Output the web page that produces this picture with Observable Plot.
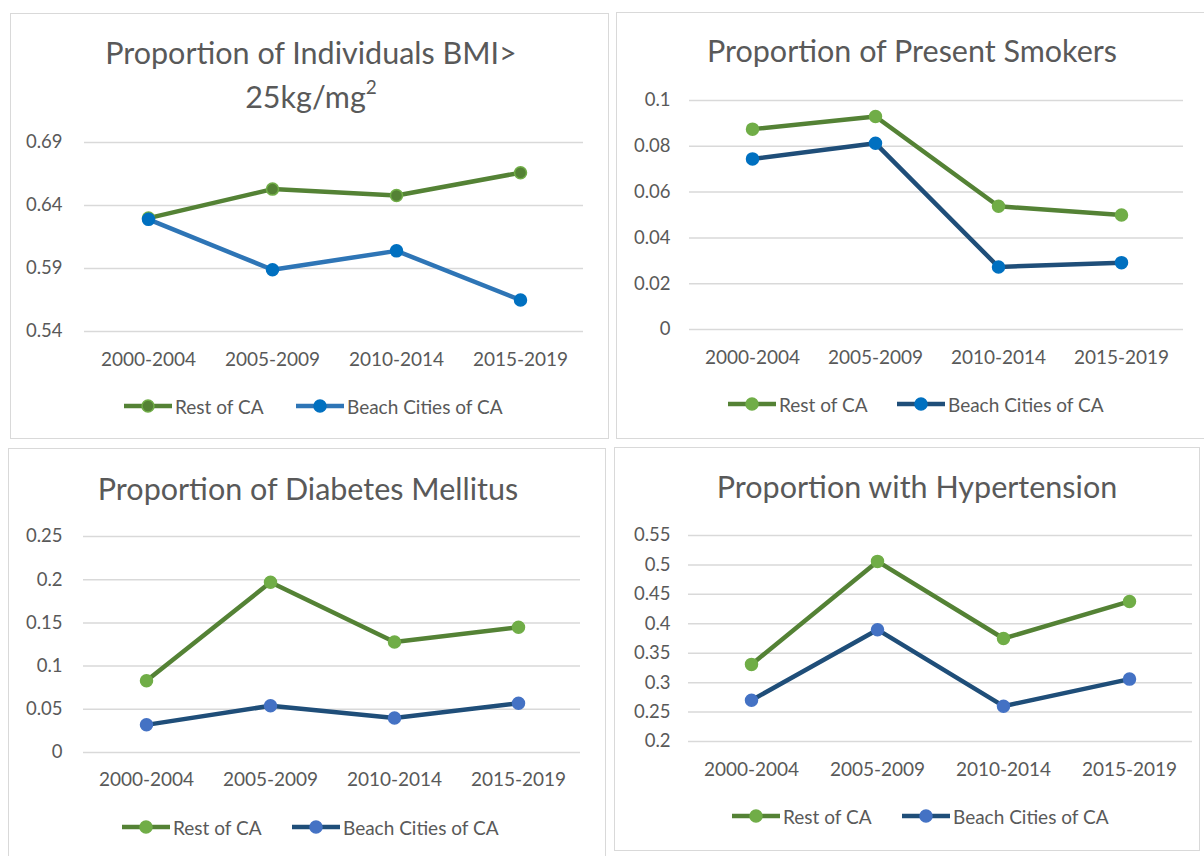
<!DOCTYPE html>
<html><head><meta charset="utf-8">
<script src="https://cdn.jsdelivr.net/npm/d3@7"></script>
<script src="https://cdn.jsdelivr.net/npm/@observablehq/plot@0.6"></script>
<style>
body{margin:0;background:#fff;font-family:Lato,"Open Sans",sans-serif;color:#595959}
#root{position:relative;width:1204px;height:856px;overflow:hidden;background:#fff}
.panel{position:absolute;border:1.5px solid #d9d9d9;box-sizing:border-box}
.title{position:absolute;white-space:nowrap;transform:translateX(-50%);font-size:30.5px;line-height:36px;text-align:center}
.title sup{font-size:19px;line-height:0;position:relative;top:-3px}
.plot{position:absolute}
.leg{position:absolute;display:flex;align-items:center;font-size:19px;white-space:nowrap;height:22px}
.leg svg{display:block}
</style>
</head><body><div id="root"></div>
<script>
const periods = ["2000-2004","2005-2009","2010-2014","2015-2019"];
const seriesNames = ["Rest of CA","Beach Cities of CA"];

const bmiRest   = [0.630, 0.653, 0.648, 0.666];
const bmiBeach  = [0.629, 0.589, 0.604, 0.565];
const smokeRest  = [0.0875, 0.0930, 0.0538, 0.0500];
const smokeBeach = [0.0745, 0.0813, 0.0273, 0.0292];
const dmRest  = [0.083, 0.197, 0.128, 0.145];
const dmBeach = [0.032, 0.054, 0.040, 0.057];
const htnRest  = [0.331, 0.506, 0.375, 0.438];
const htnBeach = [0.270, 0.390, 0.260, 0.306];

const bmiTicks = [0.54, 0.59, 0.64, 0.69];
const bmiTickLabels = ["0.54","0.59","0.64","0.69"];
const smokeTicks = [0, 0.02, 0.04, 0.06, 0.08, 0.1];
const smokeTickLabels = ["0","0.02","0.04","0.06","0.08","0.1"];
const dmTicks = [0, 0.05, 0.1, 0.15, 0.2, 0.25];
const dmTickLabels = ["0","0.05","0.1","0.15","0.2","0.25"];
const htnTicks = [0.2, 0.25, 0.3, 0.35, 0.4, 0.45, 0.5, 0.55];
const htnTickLabels = ["0.2","0.25","0.3","0.35","0.4","0.45","0.5","0.55"];

const titles = [
  ["Proportion of Individuals BMI>", "25kg/mg<sup>2</sup>"],
  ["Proportion of Present Smokers"],
  ["Proportion of Diabetes Mellitus"],
  ["Proportion with Hypertension"]
];

const panels = [
  {rest: bmiRest, beach: bmiBeach, ticks: bmiTicks, labels: bmiTickLabels, title: titles[0],
   box:{l:10,t:13,w:599,h:426}, grid:{l:84,r:583,t:142,b:331}, titleX:311, titleY:[52,96], ypad:22, xpad:21,
   legY:406, leg:[123,295],
   colors:{restLine:"#548235", restDot:"#548235", restDotStroke:"#70AD47", beachLine:"#2E75B6", beachDot:"#0070C0", beachDotStroke:"#0070C0"}},
  {rest: smokeRest, beach: smokeBeach, ticks: smokeTicks, labels: smokeTickLabels, title: titles[1],
   box:{l:616,t:12,w:600,h:427}, grid:{l:689,r:1183,t:100,b:329}, titleX:912, titleY:[50], ypad:19, xpad:21,
   legY:404, leg:[727,896],
   colors:{restLine:"#548235", restDot:"#70AD47", restDotStroke:"#70AD47", beachLine:"#1F4E79", beachDot:"#0070C0", beachDotStroke:"#0070C0"}},
  {rest: dmRest, beach: dmBeach, ticks: dmTicks, labels: dmTickLabels, title: titles[2],
   box:{l:8,t:448,w:598,h:430}, grid:{l:83,r:580,t:536,b:752}, titleX:308, titleY:[488], ypad:21, xpad:20,
   legY:827, leg:[121,291],
   colors:{restLine:"#548235", restDot:"#70AD47", restDotStroke:"#70AD47", beachLine:"#1F4E79", beachDot:"#4472C4", beachDotStroke:"#4472C4"}},
  {rest: htnRest, beach: htnBeach, ticks: htnTicks, labels: htnTickLabels, title: titles[3],
   box:{l:614,t:447,w:586,h:404}, grid:{l:688,r:1192,t:535,b:741}, titleX:917, titleY:[486], ypad:18, xpad:21,
   legY:816, leg:[731,901],
   colors:{restLine:"#548235", restDot:"#70AD47", restDotStroke:"#70AD47", beachLine:"#1F4E79", beachDot:"#4472C4", beachDotStroke:"#4472C4"}}
];

const root = document.getElementById("root");
const FONT = 'Lato, "Open Sans", sans-serif';

for (const p of panels) {
  const box = document.createElement("div");
  box.className = "panel";
  Object.assign(box.style, {left:p.box.l+"px", top:p.box.t+"px", width:p.box.w+"px", height:p.box.h+"px"});
  root.appendChild(box);

  p.title.forEach((line, i) => {
    const t = document.createElement("div");
    t.className = "title";
    t.innerHTML = line;
    Object.assign(t.style, {left:p.titleX+"px", top:(p.titleY[i]-18)+"px"});
    root.appendChild(t);
  });

  const restData = periods.map((period, i) => ({period, value: p.rest[i], series: seriesNames[0]}));
  const beachData = periods.map((period, i) => ({period, value: p.beach[i], series: seriesNames[1]}));
  const mt = 12, mb = 45;
  const svgLeft = p.box.l;
  const svgWidth = 1204 - svgLeft > p.box.w ? p.box.w : 1204 - svgLeft;
  const chart = Plot.plot({
    width: svgWidth,
    height: mt + (p.grid.b - p.grid.t) + mb,
    marginTop: mt, marginBottom: mb,
    marginLeft: p.grid.l - svgLeft,
    marginRight: svgLeft + svgWidth - p.grid.r,
    style: {fontFamily: FONT, fontSize: "19px", color: "#595959", background: "transparent", overflow: "visible"},
    x: {type: "point", domain: periods, padding: 0.5},
    y: {domain: [p.ticks[0], p.ticks[p.ticks.length-1]]},
    marks: [
      Plot.gridY(p.ticks, {stroke: "#d9d9d9", strokeOpacity: 1, strokeWidth: 1.5}),
      Plot.axisY(p.ticks, {tickSize: 0, tickPadding: p.ypad, label: null, fontSize: 18.5,
        tickFormat: d => p.labels[p.ticks.indexOf(d)]}),
      Plot.axisX({tickSize: 0, tickPadding: p.xpad, label: null, fontSize: 19}),
      Plot.line(restData, {x: "period", y: "value", stroke: p.colors.restLine, strokeWidth: 4.5}),
      Plot.dot(restData, {x: "period", y: "value", r: 6, fill: p.colors.restDot, stroke: p.colors.restDotStroke, strokeWidth: 1.5}),
      Plot.line(beachData, {x: "period", y: "value", stroke: p.colors.beachLine, strokeWidth: 4.5}),
      Plot.dot(beachData, {x: "period", y: "value", r: 6, fill: p.colors.beachDot, stroke: p.colors.beachDotStroke, strokeWidth: 1.5})
    ]
  });
  chart.classList.add("plot");
  Object.assign(chart.style, {left: svgLeft+"px", top: (p.grid.t - mt)+"px", position: "absolute"});
  root.appendChild(chart);

  const legendDefs = [
    {name: seriesNames[0], line: p.colors.restLine, dot: p.colors.restDot, dotStroke: p.colors.restDotStroke},
    {name: seriesNames[1], line: p.colors.beachLine, dot: p.colors.beachDot, dotStroke: p.colors.beachDotStroke}
  ];
  legendDefs.forEach((d, i) => {
    const item = document.createElement("div");
    item.className = "leg";
    Object.assign(item.style, {left: p.leg[i]+"px", top: (p.legY-11)+"px"});
    item.innerHTML = `<svg width="50" height="16"><line x1="1" x2="49" y1="8" y2="8" stroke="${d.line}" stroke-width="4.5"/><circle cx="25" cy="8" r="6" fill="${d.dot}" stroke="${d.dotStroke}" stroke-width="1.5"/></svg><span style="margin-left:2px">${d.name}</span>`;
    root.appendChild(item);
  });
}
</script>
</body></html>
